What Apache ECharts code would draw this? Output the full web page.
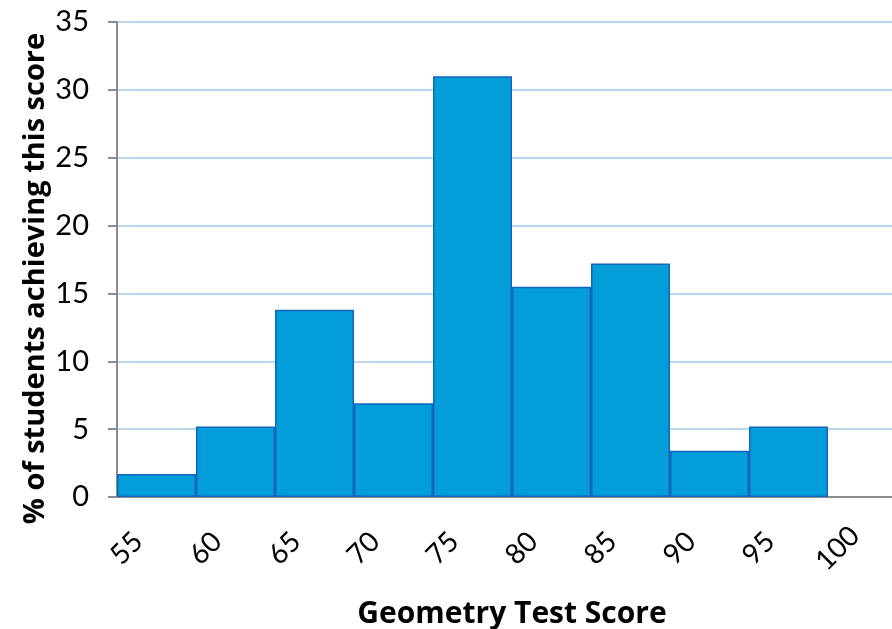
<!DOCTYPE html>
<html>
<head>
<meta charset="utf-8">
<script src="https://cdn.jsdelivr.net/npm/echarts@6/dist/echarts.min.js"></script>
<style>html,body{margin:0;padding:0;background:#fff}#c{width:892px;height:629px}</style>
</head>
<body>
<div id="c"></div>
<script>
const categories = ['55', '60', '65', '70', '75', '80', '85', '90', '95', '100'];
const percentValues = [1.7, 5.2, 13.8, 6.9, 31.0, 15.5, 17.2, 3.4, 5.2, null];
const yTicks = [0, 5, 10, 15, 20, 25, 30, 35];
const scoreLabels = [55, 60, 65, 70, 75, 80, 85, 90, 95, 100];

const FONT = 'Lato, "Open Sans", sans-serif';
const TFONT = '"Open Sans", Lato, sans-serif';
const chart = echarts.init(document.getElementById('c'), null, {renderer: 'canvas'});
chart.setOption({
  animation: false,
  backgroundColor: '#ffffff',
  grid: {left: 117, top: 22, width: 790, height: 475, containLabel: false, outerBoundsMode: 'none'},
  xAxis: [
    {
      type: 'category',
      data: categories,
      boundaryGap: true,
      axisLine: {show: true, lineStyle: {color: '#8c8c8c', width: 2}},
      axisTick: {show: false},
      axisLabel: {show: false},
      splitLine: {show: false}
    },
    {
      type: 'value',
      position: 'bottom',
      min: scoreLabels[0],
      max: scoreLabels[0] + 50,
      interval: 5,
      axisLine: {show: false},
      axisTick: {show: false},
      splitLine: {show: false},
      axisLabel: {
        show: true,
        rotate: 45,
        align: 'center',
        verticalAlign: 'middle',
        margin: 61,
        padding: [0, 0, 0, 27],
        fontFamily: FONT,
        fontSize: 28,
        color: '#000',
        formatter: function (v) { return scoreLabels.indexOf(v) >= 0 ? String(v) : ''; }
      },
      name: 'Geometry Test Score',
      nameLocation: 'middle',
      nameGap: 102,
      nameMoveOverlap: false,
      nameTextStyle: {fontFamily: TFONT, fontWeight: 'bold', fontSize: 30, color: '#000'}
    }
  ],
  yAxis: {
    type: 'value',
    min: yTicks[0],
    max: yTicks[yTicks.length - 1],
    interval: 5,
    axisLine: {show: true, lineStyle: {color: '#8c8c8c', width: 2}},
    axisTick: {show: true, inside: false, length: 9, lineStyle: {color: '#8c8c8c', width: 2}},
    axisLabel: {margin: 28, fontFamily: FONT, fontSize: 29, color: '#000'},
    splitLine: {show: true, lineStyle: {color: '#bcd6ec', width: 2}},
    name: '% of students achieving this score',
    nameLocation: 'middle',
    nameGap: 67,
    nameRotate: 90,
    nameMoveOverlap: false,
    nameTextStyle: {fontFamily: TFONT, fontWeight: 'bold', fontSize: 29, color: '#000', padding: [0, 38, 0, 0]}
  },
  series: [{
    type: 'bar',
    xAxisIndex: 0,
    data: percentValues,
    barCategoryGap: 0,
    itemStyle: {color: '#039dd9', borderColor: '#1466bd', borderWidth: 1.5},
    silent: true
  }]
});
</script>
</body>
</html>
